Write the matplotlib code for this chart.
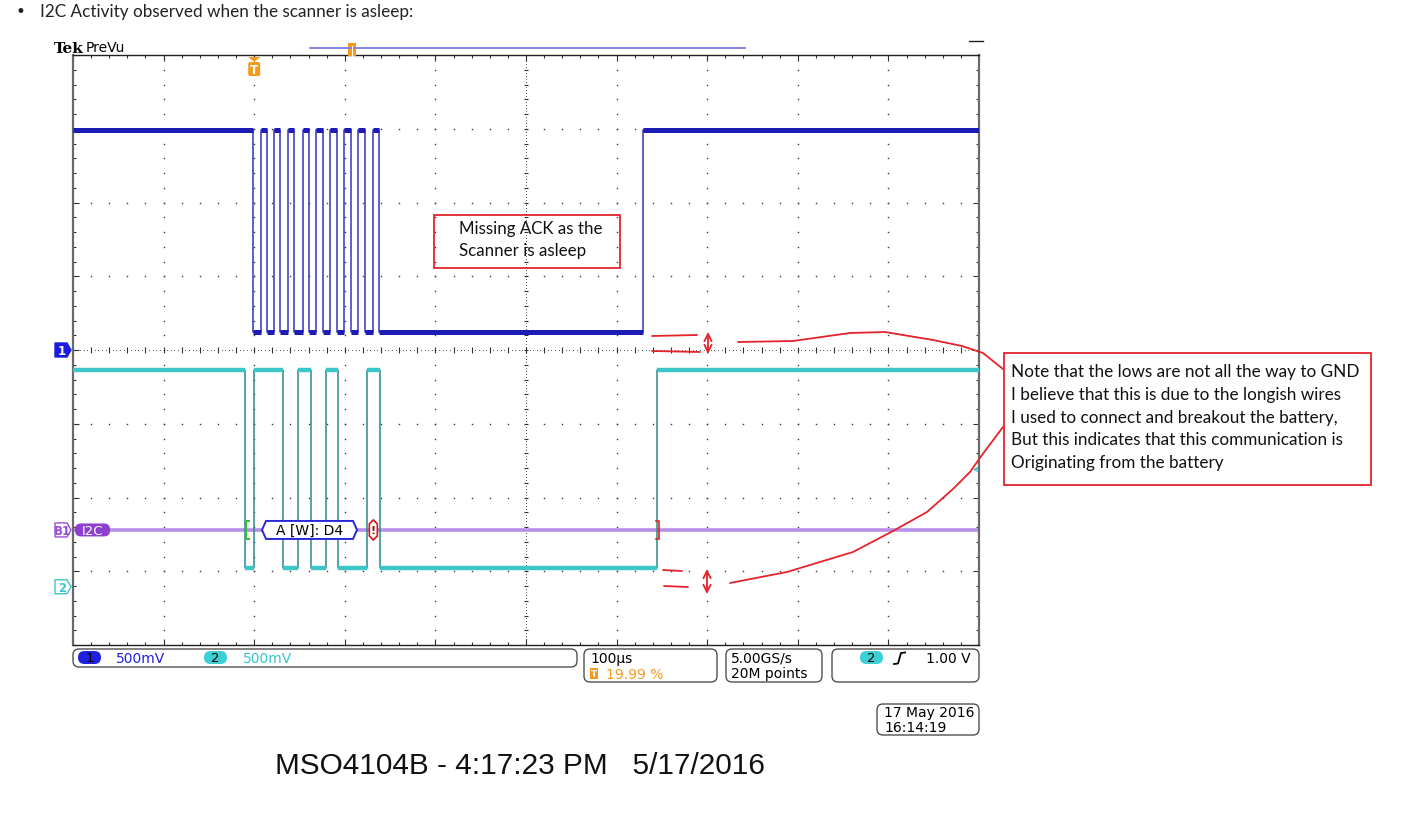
import numpy as np
import matplotlib
matplotlib.use('Agg')
from matplotlib import pyplot as plt
from matplotlib.patches import FancyBboxPatch, Polygon, Rectangle

# ---- scope settings ----
time_per_div = 100.0      # us/div
trig_pct = 20.0           # trigger position in % of record
volts_per_div = 0.5       # both channels
n_hdiv, n_vdiv = 10, 8

# ch1 (blue) edge times in us after trigger, trace starts high
ch1_edges = [-1, 7, 14, 22, 28.5, 37.5, 44, 53.5, 61, 68, 75.5, 84, 91, 99,
             106.5, 115, 122, 131, 138, 429]
ch1_high, ch1_low = 1.49, 0.12     # V
ch1_offset = 0.0                   # div

# ch2 (cyan) edge times in us, trace starts high
ch2_edges = [-10, 0, 31.5, 48, 62.5, 79, 92, 125, 139, 445]
ch2_high, ch2_low = 1.47, 0.13
ch2_offset = -3.21

# bus B1 decode
bus_offset = -2.44
bus_start = -8.5
bus_frame = (8.6, 113.5)
bus_text = 'A [W]: D4'
bus_err = 131.5
bus_stop = 447.0
trig_level_div = -1.62

ch_labels = ['1', '2']
ch_scales = ['500mV', '500mV']
horiz_txt = ['100µs', '19.99 %']
acq_txt = ['5.00GS/s', '20M points']
trig_txt = ['2', '1.00 V']
date_txt = ['17 May 2016', '16:14:19']
caption = 'MSO4104B - 4:17:23 PM   5/17/2016'
header = 'I2C Activity observed when the scanner is asleep:'
note1 = ['Missing ACK as the', 'Scanner is asleep']
note2 = ['Note that the lows are not all the way to GND',
         'I believe that this is due to the longish wires',
         'I used to connect and breakout the battery,',
         'But this indicates that this communication is',
         'Originating from the battery']

# hand drawn red strokes (screen pixels)
strokes = [
    [(652, 337), (697, 336)], [(652, 352), (700, 353)],
    [(738, 343), (793, 342), (850, 334), (885, 333), (933, 341), (962, 347), (983, 354), (1003, 370)],
    [(663, 571), (682, 572)], [(664, 587), (688, 588)],
    [(730, 584), (787, 573), (853, 553), (893, 532), (927, 513), (953, 490), (970, 473), (982, 456), (1003, 428)],
]
updown = [(708, 333, 355), (707, 570, 595)]

BLUE = '#1c1cb4'
CYAN = '#3cc6c8'
PURPLE = '#9a4fd8'
ORANGE = '#f39a1c'
RED = '#e4232b'
SCOPE_FONT = 'DejaVu Sans'
NOTE_FONT = 'Lato'

W, H = 1405, 820
fig = plt.figure(figsize=(W / 100, H / 100), dpi=100)
gl, gt, gr, gb = 73, 56, 979, 646
ax = fig.add_axes([gl / W, 1 - gb / H, (gr - gl) / W, (gb - gt) / H])
t0 = -trig_pct / 100 * n_hdiv * time_per_div
t1 = t0 + n_hdiv * time_per_div
ax.set_xlim(t0, t1)
ax.set_ylim(-n_vdiv / 2, n_vdiv / 2)
us_px = (t1 - t0) / (gr - gl)
dv_px = n_vdiv / (gb - gt)

# graticule
ax.set_xticks(t0 + np.arange(n_hdiv + 1) * time_per_div)
ax.set_xticks(t0 + np.arange(5 * n_hdiv + 1) * time_per_div / 5, minor=True)
ax.set_yticks(np.arange(-n_vdiv / 2, n_vdiv / 2 + 0.01, 1))
ax.set_yticks(np.arange(-n_vdiv / 2, n_vdiv / 2 + 0.01, 0.2), minor=True)
ax.tick_params(which='both', direction='in', top=True, right=True, bottom=True, left=True,
               labelbottom=False, labelleft=False, color='#303030', width=0.8)
ax.tick_params(which='major', length=4)
ax.tick_params(which='minor', length=2)
for s in ['left', 'right']:
    ax.spines[s].set_color('#6a6a6a')
    ax.spines[s].set_linewidth(1.6)
for s in ['top', 'bottom']:
    ax.spines[s].set_color('#202020')
    ax.spines[s].set_linewidth(1.0)

xc = t0 + n_hdiv / 2 * time_per_div
ys_minor = np.arange(-n_vdiv / 2, n_vdiv / 2 + 0.01, 0.2)
xs_minor = t0 + np.arange(5 * n_hdiv + 1) * time_per_div / 5
for k in range(1, n_hdiv):
    if k == n_hdiv // 2:
        continue
    ax.plot(np.full_like(ys_minor, t0 + k * time_per_div), ys_minor, ls='none', marker='s',
            ms=1.0, mew=0, color='#383838', zorder=1)
for j in range(-n_vdiv // 2 + 1, n_vdiv // 2):
    if j == 0:
        continue
    ax.plot(xs_minor, np.full_like(xs_minor, j), ls='none', marker='s', ms=1.0, mew=0,
            color='#383838', zorder=1)
dense_y = np.arange(-n_vdiv / 2, n_vdiv / 2, 0.04)
dense_x = np.arange(t0, t1, 4)
ax.plot(np.full_like(dense_y, xc), dense_y, ls='none', marker='s', ms=0.7, mew=0, color='#606060', zorder=1)
ax.plot(dense_x, np.zeros_like(dense_x), ls='none', marker='s', ms=0.7, mew=0, color='#606060', zorder=1)
ax.plot(np.full_like(ys_minor, xc), ys_minor, ls='none', marker='_', ms=3.5, mew=0.8, color='#303030', zorder=1)
ax.plot(xs_minor, np.zeros_like(xs_minor), ls='none', marker='|', ms=4, mew=0.8, color='#303030', zorder=1)


def trace(edges, hi, lo, off, c_edge, c_band, lw_band):
    bounds = np.array([t0] + list(edges) + [t1])
    lv = np.array([hi if i % 2 == 0 else lo for i in range(len(bounds) - 1)])
    xs = np.repeat(bounds, 2)[1:-1]
    ys = off + np.repeat(lv, 2) / volts_per_div
    ax.plot(xs, ys, color=c_edge, lw=1.1, zorder=3)
    ax.hlines(off + lv / volts_per_div, bounds[:-1], bounds[1:], color=c_band, lw=lw_band, zorder=3)


ax.axhline(bus_offset, color='#b98ee8', lw=2.6, zorder=2)
trace(ch1_edges, ch1_high, ch1_low, ch1_offset, '#3434bc', BLUE, 3.6)
trace(ch2_edges, ch2_high, ch2_low, ch2_offset, '#2a8a8c', CYAN, 3.2)

# bus decode marks
hh = 9 * dv_px
d = 4 * us_px
a, b = bus_frame
ax.add_patch(Polygon([(a, bus_offset), (a + d, bus_offset + hh), (b - d, bus_offset + hh), (b, bus_offset),
                      (b - d, bus_offset - hh), (a + d, bus_offset - hh)], closed=True,
                     fc='white', ec='#2828d8', lw=1.4, zorder=6))
ax.text((a + b) / 2, bus_offset, bus_text, ha='center', va='center', fontsize=10,
        family=SCOPE_FONT, zorder=7)
e0, e1 = bus_err - 4 * us_px, bus_err + 4 * us_px
h2 = 10 * dv_px
ax.add_patch(Polygon([(e0, bus_offset + h2 * 0.6), (bus_err, bus_offset + h2), (e1, bus_offset + h2 * 0.6),
                      (e1, bus_offset - h2 * 0.6), (bus_err, bus_offset - h2), (e0, bus_offset - h2 * 0.6)],
                     closed=True, fc='white', ec='#d01818', lw=1.2, zorder=6))
ax.text(bus_err, bus_offset, '!', ha='center', va='center', fontsize=8, fontweight='bold',
        color='#a01010', zorder=7)
ax.plot([bus_start + 3 * us_px, bus_start, bus_start, bus_start + 3 * us_px],
        [bus_offset + hh, bus_offset + hh, bus_offset - hh, bus_offset - hh], color='#2ec02e', lw=1.4, zorder=6)
ax.plot([bus_stop - 3 * us_px, bus_stop, bus_stop, bus_stop - 3 * us_px],
        [bus_offset + hh, bus_offset + hh, bus_offset - hh, bus_offset - hh], color='#e02020', lw=1.2, zorder=6)
ax.annotate('', xy=(t1 - 9 * us_px, trig_level_div), xytext=(t1, trig_level_div),
            arrowprops=dict(arrowstyle='->', color=CYAN, lw=1, mutation_scale=6), zorder=6)


def to_px(t, dv):
    x, y = ax.transData.transform((t, dv))
    return x, H - y


# overlay in screen pixels
ov = fig.add_axes([0, 0, 1, 1])
ov.set_xlim(0, W)
ov.set_ylim(H, 0)
ov.axis('off')

ov.text(20, 12, '•', fontsize=12, va='center', ha='center', color='#222222')
ov.text(40, 12, header, fontsize=12.3, va='center', family=NOTE_FONT, color='#222222')

ov.text(54, 49, 'Tek', fontsize=11, fontweight='bold', family='DejaVu Serif', va='center')
ov.text(86, 48, 'PreVu', fontsize=10, family=SCOPE_FONT, va='center')
ov.plot([310, 745], [49, 49], color='#7b7be6', lw=1.3)
ov.add_patch(Rectangle((348, 44), 8, 13, fc=ORANGE, ec='none'))
ov.plot([352, 352], [47, 57], color='white', lw=0.8)
ov.plot([969, 983], [42, 42], color='#202020', lw=1)

# trigger T marker
tx, ty = to_px(0, n_vdiv / 2)
ov.add_patch(Polygon([(tx - 6, ty + 2), (tx + 6, ty + 2), (tx, ty + 7)], closed=True, fc=ORANGE, ec='none'))
ov.add_patch(FancyBboxPatch((tx - 6, ty + 7), 12, 14, boxstyle='round,pad=0,rounding_size=2', fc=ORANGE, ec='none'))
ov.text(tx, ty + 14.5, 'T', fontsize=8.5, fontweight='bold', color='white', ha='center', va='center')


def tag(y, label, fc, ec, tc):
    ov.add_patch(Polygon([(55, y - 7), (67, y - 7), (71, y), (67, y + 7), (55, y + 7)], closed=True,
                         fc=fc, ec=ec, lw=1))
    ov.text(62, y + 0.5, label, fontsize=8.5, fontweight='bold', color=tc, ha='center', va='center',
            family=SCOPE_FONT)


_, y1 = to_px(0, ch1_offset)
_, yb = to_px(0, bus_offset)
_, y2 = to_px(0, ch2_offset)
tag(y1, '1', '#1c1ce0', '#1c1ce0', 'white')
tag(yb, 'B1', 'white', PURPLE, PURPLE)
tag(y2, '2', 'white', CYAN, CYAN)
ov.add_patch(FancyBboxPatch((75, yb - 6.5), 35, 13, boxstyle='round,pad=0,rounding_size=6',
                            fc='#8e3fd0', ec='none'))
ov.text(92.5, yb + 0.5, 'I2C', fontsize=9.5, color='white', ha='center', va='center', family=SCOPE_FONT)

# status bar


def rbox(x, y, w, h, r=6):
    ov.add_patch(FancyBboxPatch((x, y), w, h, boxstyle='round,pad=0,rounding_size=%g' % r,
                                fc='white', ec='#505050', lw=1))


def pill(x, y, label, fc):
    ov.add_patch(FancyBboxPatch((x, y), 23, 13, boxstyle='round,pad=0,rounding_size=6.5', fc=fc, ec='none'))
    ov.text(x + 11.5, y + 7, label, fontsize=9.5, ha='center', va='center', family=SCOPE_FONT, color='black')


st = dict(fontsize=10, family=SCOPE_FONT, va='center')
rbox(73, 650, 504, 18)
pill(78, 652, ch_labels[0], '#2020e0')
ov.text(116, 659, ch_scales[0], color='#2020e0', **st)
pill(204, 652, ch_labels[1], '#3cd0d6')
ov.text(243, 659, ch_scales[1], color='#33c6d2', **st)

rbox(584, 650, 133, 33)
ov.text(590, 659, horiz_txt[0], color='black', **st)
ov.add_patch(Rectangle((590, 669), 8, 11, fc=ORANGE, ec='none'))
ov.text(594, 675, 'T', fontsize=6.5, color='white', fontweight='bold', ha='center', va='center')
ov.text(606, 675, horiz_txt[1], color=ORANGE, **st)

rbox(726, 650, 96, 33)
ov.text(731, 659, acq_txt[0], color='black', **st)
ov.text(731, 674, acq_txt[1], color='black', **st)

rbox(832, 650, 147, 33)
pill(860, 652, trig_txt[0], '#3cd0d6')
ov.plot([894, 898, 901, 905], [665, 664.5, 654, 653.5], color='black', lw=1.3)
ov.text(926, 659, trig_txt[1], color='black', **st)

rbox(877, 705, 102, 31)
ov.text(884, 713, date_txt[0], color='black', **st)
ov.text(884, 728, date_txt[1], color='black', **st)

ov.text(275, 766, caption, fontsize=21.4, family='Liberation Sans', va='center', color='#111111')

# red notes
ov.add_patch(Rectangle((434, 216), 186, 53, fc='none', ec=RED, lw=1.3))
for i, s in enumerate(note1):
    ov.text(459, 229 + 22 * i, s, fontsize=12.2, family=NOTE_FONT, va='center', color='#111111')
ov.add_patch(Rectangle((1004, 354), 367, 132, fc='none', ec=RED, lw=1.3))
for i, s in enumerate(note2):
    ov.text(1011, 372 + 22.8 * i, s, fontsize=12.3, family=NOTE_FONT, va='center', color='#111111')
for pts in strokes:
    pts = np.array(pts)
    ov.plot(pts[:, 0], pts[:, 1], color=RED, lw=1.3, solid_capstyle='round')
for x, ya, yb2 in updown:
    ov.annotate('', xy=(x, ya), xytext=(x, yb2),
                arrowprops=dict(arrowstyle='<->', color=RED, lw=1.3, mutation_scale=13,
                                shrinkA=0, shrinkB=0))

fig.savefig('out.png', dpi=100)
